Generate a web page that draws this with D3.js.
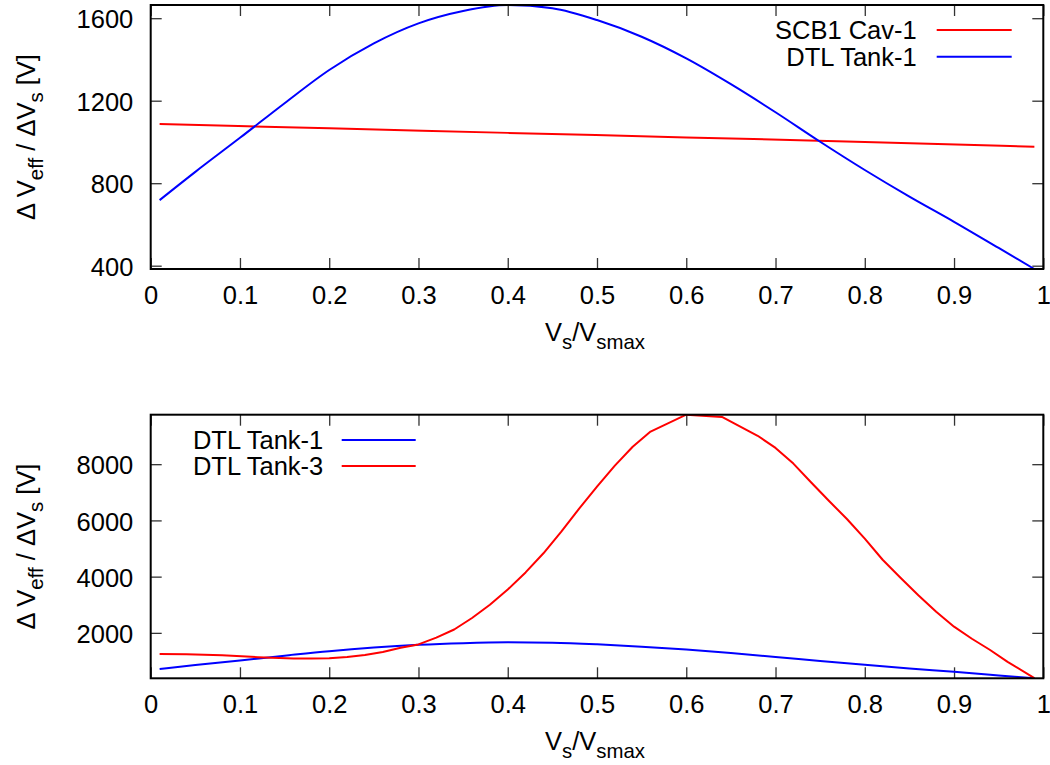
<!DOCTYPE html>
<html>
<head>
<meta charset="utf-8">
<script src="https://cdn.jsdelivr.net/npm/d3@7"></script>
<style>
  html, body { margin: 0; padding: 0; background: #fff; }
  svg { display: block; }
  text { font-family: "Liberation Sans", Arial, Helvetica, sans-serif; fill: #000; }
</style>
</head>
<body>
<svg id="chart" width="1050" height="765"></svg>
<script>
// ---------- data ----------
const xTicks = [0, 0.1, 0.2, 0.3, 0.4, 0.5, 0.6, 0.7, 0.8, 0.9, 1];
const xTickLabels = ["0", "0.1", "0.2", "0.3", "0.4", "0.5", "0.6", "0.7", "0.8", "0.9", "1"];
const topYTicks = [400, 800, 1200, 1600];
const bottomYTicks = [2000, 4000, 6000, 8000];

// SCB1 Cav-1
const scb1X = [0.01, 0.2, 0.4, 0.6, 0.8, 0.99];
const scb1Y = [1087, 1066, 1044, 1022, 1000, 977];

// DTL Tank-1
const tank1X = [0.01, 0.05, 0.1, 0.15, 0.2, 0.25, 0.3, 0.35, 0.4, 0.45, 0.5, 0.55, 0.6, 0.65, 0.7, 0.75, 0.8, 0.85, 0.9, 0.95, 0.99];
const tank1Y = [718, 855, 1020, 1188, 1349, 1478, 1575, 1635, 1664, 1648, 1591, 1510, 1405, 1280, 1144, 1001, 864, 735, 613, 486, 384];

// DTL Tank-3
const tank3X = [0.01, 0.04, 0.08, 0.12, 0.16, 0.18, 0.2, 0.22, 0.24, 0.26, 0.28, 0.3, 0.32, 0.34, 0.36, 0.38, 0.4, 0.42, 0.44, 0.46, 0.48, 0.5, 0.52, 0.54, 0.56, 0.6, 0.64, 0.68, 0.7, 0.72, 0.74, 0.76, 0.78, 0.8, 0.82, 0.84, 0.86, 0.88, 0.9, 0.92, 0.94, 0.96, 0.99];
const tank3Y = [1252, 1240, 1200, 1135, 1092, 1087, 1100, 1140, 1210, 1320, 1470, 1590, 1830, 2120, 2530, 3000, 3540, 4150, 4830, 5600, 6420, 7200, 7950, 8620, 9160, 9760, 9680, 9010, 8580, 8020, 7350, 6690, 6050, 5350, 4600, 3960, 3340, 2750, 2220, 1790, 1400, 970, 390];

const topSeries = [
  { name: "SCB1 Cav-1", xs: scb1X, ys: scb1Y, color: "#ff0000", curve: d3.curveMonotoneX },
  { name: "DTL Tank-1", xs: tank1X, ys: tank1Y, color: "#0000ff", curve: d3.curveMonotoneX }
];
const bottomSeries = [
  { name: "DTL Tank-1", xs: tank1X, ys: tank1Y, color: "#0000ff", curve: d3.curveMonotoneX },
  { name: "DTL Tank-3", xs: tank3X, ys: tank3Y, color: "#ff0000", curve: d3.curveLinear }
];

// ---------- layout ----------
const svg = d3.select("#chart");
svg.append("rect").attr("width", 1050).attr("height", 765).attr("fill", "#fff");

const FONT = 25.5;
const SUB = FONT * 0.8;
const TICK = 11;

function drawPanel(cfg) {
  const { left, right, top, bottom, series, yTicks, legend, id } = cfg;
  const W = right - left, H = bottom - top;
  const g = svg.append("g").attr("transform", `translate(${left},${top})`);

  const allY = series.flatMap(s => s.ys);
  const x = d3.scaleLinear().domain([0, 1]).range([0, W]);
  const y = d3.scaleLinear().domain(d3.extent(allY)).range([H, 0]);

  g.append("clipPath").attr("id", id).append("rect").attr("width", W).attr("height", H);

  const fmt = (d) => xTickLabels[xTicks.indexOf(d)];

  const styleAxis = (sel, labels, dy) => {
    sel.select(".domain").remove();
    sel.selectAll(".tick line").attr("stroke", "#333").attr("stroke-width", 1.3);
    sel.selectAll(".tick text").attr("font-size", FONT).attr("fill", "#000")
      .style("font-family", '"Liberation Sans", Arial, sans-serif');
    if (dy) sel.selectAll(".tick text").attr("dy", dy);
    if (!labels) sel.selectAll(".tick text").remove();
  };

  g.append("g").attr("transform", `translate(0,${H})`)
    .call(d3.axisBottom(x).tickValues(xTicks).tickFormat(fmt).tickSize(-TICK).tickPadding(17))
    .call(s => styleAxis(s, true));
  g.append("g")
    .call(d3.axisTop(x).tickValues(xTicks).tickSize(-TICK))
    .call(s => styleAxis(s, false));
  g.append("g")
    .call(d3.axisLeft(y).tickValues(yTicks).tickFormat(d3.format("d")).tickSize(-TICK).tickPadding(17.4))
    .call(s => styleAxis(s, true, "0.38em"));
  g.append("g").attr("transform", `translate(${W},0)`)
    .call(d3.axisRight(y).tickValues(yTicks).tickSize(-TICK))
    .call(s => styleAxis(s, false));

  const plot = g.append("g").attr("clip-path", `url(#${id})`);
  series.forEach(s => {
    const pts = s.xs.map((xv, i) => [xv, s.ys[i]]);
    plot.append("path")
      .datum(pts)
      .attr("fill", "none")
      .attr("stroke", s.color)
      .attr("stroke-width", 2)
      .attr("stroke-linejoin", "round")
      .attr("d", d3.line().x(d => x(d[0])).y(d => y(d[1])).curve(s.curve));
  });

  // frame
  g.append("rect").attr("width", W).attr("height", H)
    .attr("fill", "none").attr("stroke", "#000").attr("stroke-width", 2);

  // legend
  series.forEach((s, i) => {
    const ly = legend.y + i * legend.dy;
    g.append("text").attr("x", legend.textX).attr("y", ly).attr("dy", "0.36em")
      .attr("text-anchor", "end").attr("font-size", FONT).text(s.name);
    g.append("line").attr("x1", legend.x1).attr("x2", legend.x2)
      .attr("y1", ly).attr("y2", ly)
      .attr("stroke", s.color).attr("stroke-width", 2);
  });

  // x label
  const xl = g.append("text").attr("x", W / 2 - 2).attr("y", H + 72)
    .attr("text-anchor", "middle").attr("font-size", FONT);
  xl.append("tspan").text("V");
  xl.append("tspan").attr("font-size", SUB).attr("dy", 8).text("s");
  xl.append("tspan").attr("dy", -8).text("/V");
  xl.append("tspan").attr("font-size", SUB).attr("dy", 8).text("smax");

  // y label
  const yl = g.append("text")
    .attr("transform", `translate(${35 - left},${H / 2}) rotate(-90)`)
    .attr("text-anchor", "middle").attr("font-size", FONT);
  yl.append("tspan").text("\u0394 V");
  yl.append("tspan").attr("font-size", SUB).attr("dy", 8).text("eff");
  yl.append("tspan").attr("dy", -8).text(" / \u0394V");
  yl.append("tspan").attr("font-size", SUB).attr("dy", 8).text("s");
  yl.append("tspan").attr("dy", -8).text(" [V]");
}

drawPanel({
  id: "clipTop", left: 150.7, right: 1043.3, top: 5, bottom: 269,
  series: topSeries, yTicks: topYTicks,
  legend: { textX: 766, x1: 786, x2: 861, y: 25, dy: 26.7 }
});
drawPanel({
  id: "clipBottom", left: 150.7, right: 1043.3, top: 414.7, bottom: 678.3,
  series: bottomSeries, yTicks: bottomYTicks,
  legend: { textX: 172.6, x1: 191, x2: 265, y: 25.3, dy: 26 }
});
</script>
</body>
</html>
